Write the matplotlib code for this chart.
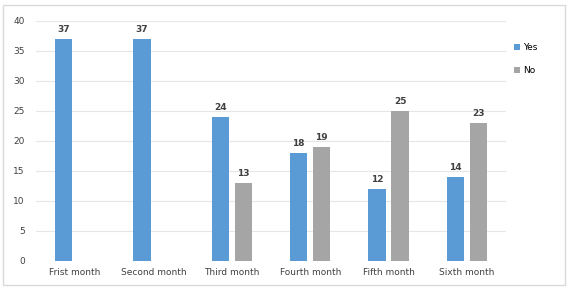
import matplotlib.pyplot as plt
import numpy as np

months = ['Frist month', 'Second month', 'Third month', 'Fourth month', 'Fifth month', 'Sixth month']
yes = [37, 37, 24, 18, 12, 14]
no = [np.nan, np.nan, 13, 19, 25, 23]

fig = plt.figure(figsize=(5.7, 2.9), dpi=100)
fig.patch.set_facecolor('white')
# chart border
border = plt.Rectangle((0.006, 0.017), 0.986, 0.966, transform=fig.transFigure,
                       fill=False, edgecolor='#d9d9d9', linewidth=1)
fig.add_artist(border)

ax = fig.add_axes([0.063, 0.1, 0.825, 0.828])
x = np.arange(len(months))
w = 0.22
off = 0.147
b1 = ax.bar(x - off, yes, w, color='#5b9bd5', label='Yes')
b2 = ax.bar(x + off, no, w, color='#a5a5a5', label='No')

for xi, v in zip(x, yes):
    ax.text(xi - off, v + 0.8, str(v), ha='center', va='bottom', fontsize=6.5,
            fontweight='bold', color='#404040')
for xi, v in zip(x, no):
    if not np.isnan(v):
        ax.text(xi + off, v + 0.8, str(int(v)), ha='center', va='bottom', fontsize=6.5,
                fontweight='bold', color='#404040')

ax.set_ylim(0, 40)
ax.set_yticks(range(0, 41, 5))
ax.set_xlim(-0.5, 5.5)
ax.set_xticks(x)
ax.set_xticklabels(months)
ax.tick_params(axis='both', length=0, labelsize=6.5, colors='#404040')
ax.tick_params(axis='y', pad=8)
ax.tick_params(axis='x', pad=5)
ax.grid(axis='y', color='#e6e6e6', linewidth=0.8)
ax.set_axisbelow(True)
for s in ax.spines.values():
    s.set_visible(False)

fig.legend(handles=[b1, b2], labels=['Yes', 'No'], loc='upper left',
           bbox_to_anchor=(0.888, 0.88), frameon=False, fontsize=6.5,
           handlelength=0.6, handleheight=0.6, handletextpad=0.4, labelspacing=1.6)

fig.savefig('out.png', dpi=100)
